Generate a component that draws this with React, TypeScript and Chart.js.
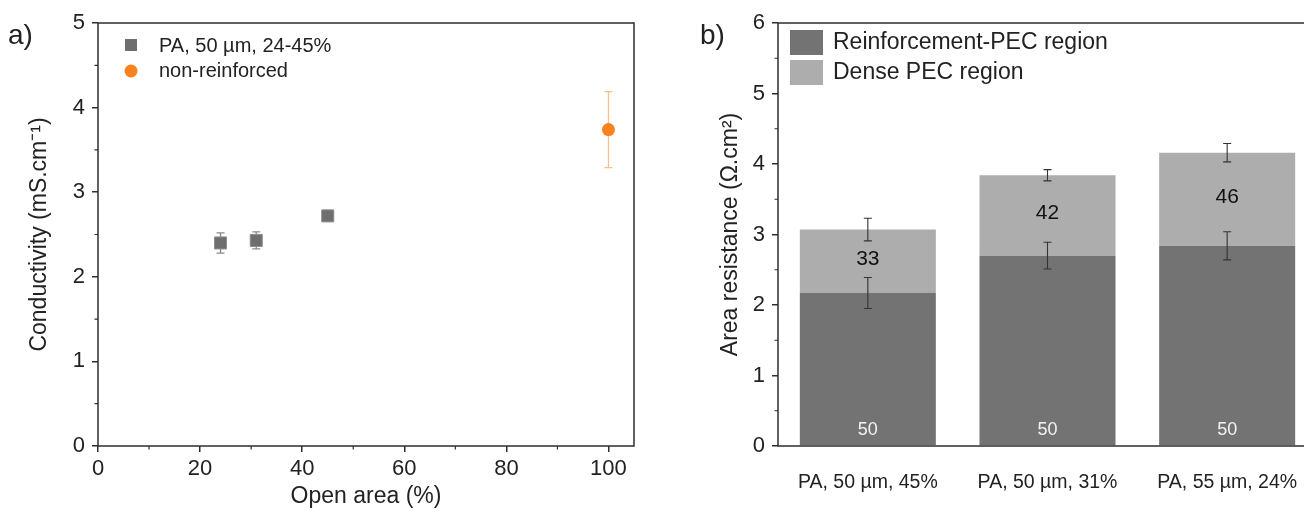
import React, { useEffect, useRef } from "react";
import { Chart, registerables } from "chart.js";

Chart.register(...registerables);

const FONT = '"Liberation Sans", Arial, Helvetica, sans-serif';
const TEXT = "#222222";
const AXIS = "#2e2e2e";

// ---------- Panel a data ----------
const seriesANames = ["PA, 50 µm, 24-45%", "non-reinforced"];
const openAreaPA = [24, 31, 45];
const conductivityPA = [2.4, 2.43, 2.72];
const conductivityPAErr = [0.12, 0.1, 0.03];
const openAreaNR = [100];
const conductivityNR = [3.74];
const conductivityNRErr = [0.45];
const xTitleA = "Open area (%)";
const yTitleA = "Conductivity (mS.cm⁻¹)";

// ---------- Panel b data ----------
const categoriesB = ["PA, 50 µm, 45%", "PA, 50 µm, 31%", "PA, 55 µm, 24%"];
const seriesBNames = ["Reinforcement-PEC region", "Dense PEC region"];
const reinforcementRes = [2.17, 2.7, 2.84];
const reinforcementErr = [0.22, 0.19, 0.2];
const denseRes = [0.9, 1.14, 1.32];
const totalErr = [0.16, 0.08, 0.13];
const reinforcementLabels = ["50", "50", "50"];
const denseLabels = ["33", "42", "46"];
const yTitleB = "Area resistance (Ω.cm²)";

const COLOR_PA = "#6e6e6e";
const COLOR_NR = "#f7821e";
const COLOR_DARK = "#737373";
const COLOR_LIGHT = "#adadad";

function framePlugin(xMinor: number | null, yMinor: number | null) {
  return {
    id: "frame",
    afterDraw(chart: any) {
      const { ctx, chartArea: a } = chart;
      ctx.save();
      ctx.strokeStyle = AXIS;
      ctx.lineWidth = 1.5;
      ctx.strokeRect(a.left, a.top, a.right - a.left, a.bottom - a.top);
      ctx.lineWidth = 1.2;
      ctx.beginPath();
      if (yMinor) {
        const ys = chart.scales.y;
        for (let v = ys.min + yMinor; v < ys.max; v += 2 * yMinor) {
          const py = ys.getPixelForValue(v);
          ctx.moveTo(a.left, py);
          ctx.lineTo(a.left - 3.5, py);
        }
      }
      if (xMinor) {
        const xs = chart.scales.x;
        for (let v = xs.min + xMinor; v < xs.max; v += 2 * xMinor) {
          const px = xs.getPixelForValue(v);
          ctx.moveTo(px, a.bottom);
          ctx.lineTo(px, a.bottom + 3.5);
        }
      }
      ctx.stroke();
      ctx.restore();
    },
  };
}

function panelLabelPlugin(text: string, x: number, y: number) {
  return {
    id: "panelLabel",
    afterDraw(chart: any) {
      const ctx = chart.ctx;
      ctx.save();
      ctx.font = `28px ${FONT}`;
      ctx.fillStyle = TEXT;
      ctx.textBaseline = "middle";
      ctx.textAlign = "left";
      ctx.fillText(text, x, y);
      ctx.restore();
    },
  };
}

function drawErr(ctx: any, x: number, y1: number, y2: number, cap: number) {
  ctx.beginPath();
  ctx.moveTo(x, y1);
  ctx.lineTo(x, y2);
  ctx.moveTo(x - cap, y1);
  ctx.lineTo(x + cap, y1);
  ctx.moveTo(x - cap, y2);
  ctx.lineTo(x + cap, y2);
  ctx.stroke();
}

const scatterErrorPlugin = {
  id: "scatterErr",
  beforeDatasetsDraw(chart: any) {
    const { ctx } = chart;
    const ys = chart.scales.y;
    const sets = [
      { di: 0, vals: conductivityPA, errs: conductivityPAErr, color: "#8a8a8a" },
      { di: 1, vals: conductivityNR, errs: conductivityNRErr, color: "#f9bf8c" },
    ];
    ctx.save();
    ctx.lineWidth = 1.3;
    sets.forEach((s) => {
      const meta = chart.getDatasetMeta(s.di);
      ctx.strokeStyle = s.color;
      meta.data.forEach((pt: any, i: number) => {
        const y1 = ys.getPixelForValue(s.vals[i] + s.errs[i]);
        const y2 = ys.getPixelForValue(s.vals[i] - s.errs[i]);
        drawErr(ctx, pt.x, y1, y2, 4);
      });
    });
    ctx.restore();
  },
};

const legendAPlugin = {
  id: "legendA",
  afterDraw(chart: any) {
    const { ctx, chartArea: a } = chart;
    const x0 = a.left + 33;
    const y0 = a.top + 22;
    ctx.save();
    ctx.font = `20px ${FONT}`;
    ctx.fillStyle = TEXT;
    ctx.textBaseline = "middle";
    ctx.fillStyle = COLOR_PA;
    ctx.fillRect(x0 - 6, y0 - 6, 12, 12);
    ctx.fillStyle = TEXT;
    ctx.fillText(seriesANames[0], x0 + 28, y0 + 1);
    ctx.fillStyle = COLOR_NR;
    ctx.beginPath();
    ctx.arc(x0, y0 + 26, 6.5, 0, Math.PI * 2);
    ctx.fill();
    ctx.fillStyle = TEXT;
    ctx.fillText(seriesANames[1], x0 + 28, y0 + 26);
    ctx.restore();
  },
};

const barExtrasPlugin = {
  id: "barExtras",
  afterDatasetsDraw(chart: any) {
    const { ctx } = chart;
    const ys = chart.scales.y;
    const meta0 = chart.getDatasetMeta(0);
    const meta1 = chart.getDatasetMeta(1);
    ctx.save();
    ctx.textAlign = "center";
    ctx.textBaseline = "middle";
    meta0.data.forEach((bar: any, i: number) => {
      ctx.font = `18px ${FONT}`;
      ctx.fillStyle = "#f2f2f2";
      ctx.fillText(reinforcementLabels[i], bar.x, ys.getPixelForValue(0) - 16);
    });
    meta1.data.forEach((bar: any, i: number) => {
      const yb = ys.getPixelForValue(reinforcementRes[i]);
      const yt = ys.getPixelForValue(reinforcementRes[i] + denseRes[i]);
      ctx.font = `21px ${FONT}`;
      ctx.fillStyle = "#111111";
      ctx.fillText(denseLabels[i], bar.x, (yb + yt) / 2 - 2);
    });
    ctx.strokeStyle = "#333333";
    ctx.lineWidth = 1.1;
    meta0.data.forEach((bar: any, i: number) => {
      const v = reinforcementRes[i];
      drawErr(ctx, bar.x, ys.getPixelForValue(v + reinforcementErr[i]), ys.getPixelForValue(v - reinforcementErr[i]), 4);
    });
    meta1.data.forEach((bar: any, i: number) => {
      const v = reinforcementRes[i] + denseRes[i];
      drawErr(ctx, bar.x, ys.getPixelForValue(v + totalErr[i]), ys.getPixelForValue(v - totalErr[i]), 4);
    });
    ctx.restore();
  },
};

const legendBPlugin = {
  id: "legendB",
  afterDraw(chart: any) {
    const { ctx, chartArea: a } = chart;
    const x0 = a.left + 12;
    const y0 = a.top + 7;
    ctx.save();
    ctx.font = `23px ${FONT}`;
    ctx.textBaseline = "middle";
    const cols = [COLOR_DARK, COLOR_LIGHT];
    seriesBNames.forEach((name, i) => {
      const y = y0 + i * 30;
      ctx.fillStyle = cols[i];
      ctx.fillRect(x0, y, 33, 25);
      ctx.fillStyle = TEXT;
      ctx.fillText(name, x0 + 43, y + 13);
    });
    ctx.restore();
  },
};

export default function App() {
  const refA = useRef<HTMLCanvasElement | null>(null);
  const refB = useRef<HTMLCanvasElement | null>(null);

  useEffect(() => {
    Chart.defaults.font.family = FONT;
    Chart.defaults.color = TEXT;

    const tickGrid = {
      drawOnChartArea: false,
      drawTicks: true,
      tickLength: 6,
      color: AXIS,
      lineWidth: 1.5,
    };

    const chartA = new Chart(refA.current as HTMLCanvasElement, {
      type: "scatter",
      data: {
        datasets: [
          {
            label: seriesANames[0],
            data: openAreaPA.map((x, i) => ({ x, y: conductivityPA[i] })),
            pointStyle: "rect",
            pointRadius: 8.5,
            backgroundColor: COLOR_PA,
            borderColor: "#8c8c8c",
            borderWidth: 1,
          },
          {
            label: seriesANames[1],
            data: openAreaNR.map((x, i) => ({ x, y: conductivityNR[i] })),
            pointStyle: "circle",
            pointRadius: 6.5,
            backgroundColor: COLOR_NR,
            borderColor: COLOR_NR,
            borderWidth: 0,
          },
        ],
      },
      options: {
        responsive: false,
        animation: false,
        devicePixelRatio: 1,
        layout: { padding: { left: 0, top: 23, right: 16, bottom: 0 } },
        plugins: { legend: { display: false }, tooltip: { enabled: false } },
        scales: {
          x: {
            type: "linear",
            min: 0,
            max: 105,
            afterFit: (s: any) => {
              s.height = 65;
            },
            ticks: { stepSize: 20, includeBounds: false, font: { size: 22 }, color: TEXT, padding: 4 },
            grid: tickGrid,
            border: { display: false },
            title: { display: true, text: xTitleA, font: { size: 23 }, color: TEXT, padding: { top: 0, bottom: 1 } },
          },
          y: {
            min: 0,
            max: 5,
            afterFit: (s: any) => {
              s.width = 98;
            },
            ticks: { stepSize: 1, font: { size: 22 }, color: TEXT, padding: 7 },
            grid: tickGrid,
            border: { display: false },
            title: { display: true, text: yTitleA, font: { size: 23 }, color: TEXT, padding: { top: 26, bottom: 0 } },
          },
        },
      } as any,
      plugins: [scatterErrorPlugin, framePlugin(10, 0.5), legendAPlugin, panelLabelPlugin("a)", 8, 36)],
    });

    const chartB = new Chart(refB.current as HTMLCanvasElement, {
      type: "bar",
      data: {
        labels: categoriesB,
        datasets: [
          { label: seriesBNames[0], data: reinforcementRes, backgroundColor: COLOR_DARK, stack: "s" },
          { label: seriesBNames[1], data: denseRes, backgroundColor: COLOR_LIGHT, stack: "s" },
        ],
      },
      options: {
        responsive: false,
        animation: false,
        devicePixelRatio: 1,
        layout: { padding: { left: 0, top: 23, right: 13, bottom: 0 } },
        datasets: { bar: { categoryPercentage: 1, barPercentage: 0.757 } },
        plugins: { legend: { display: false }, tooltip: { enabled: false } },
        scales: {
          x: {
            stacked: true,
            afterFit: (s: any) => {
              s.height = 65;
            },
            grid: { display: false, drawTicks: false },
            border: { display: false },
            ticks: { font: { size: 19.5 }, color: TEXT, padding: 25, maxRotation: 0, autoSkip: false },
          },
          y: {
            stacked: true,
            min: 0,
            max: 6,
            afterFit: (s: any) => {
              s.width = 128;
            },
            ticks: { stepSize: 1, font: { size: 22 }, color: TEXT, padding: 7 },
            grid: tickGrid,
            border: { display: false },
            title: { display: true, text: yTitleB, font: { size: 23 }, color: TEXT, padding: { top: 67, bottom: 0 } },
          },
        },
      } as any,
      plugins: [barExtrasPlugin, framePlugin(null, 0.5), legendBPlugin, panelLabelPlugin("b)", 50, 36)],
    });

    return () => {
      chartA.destroy();
      chartB.destroy();
    };
  }, []);

  return (
    <div
      style={{
        position: "absolute",
        left: 0,
        top: 0,
        width: 1304,
        height: 511,
        overflow: "hidden",
        background: "#ffffff",
      }}
    >
      <canvas ref={refA} width={650} height={511} style={{ position: "absolute", left: 0, top: 0 }} />
      <canvas ref={refB} width={680} height={511} style={{ position: "absolute", left: 650, top: 0 }} />
    </div>
  );
}
